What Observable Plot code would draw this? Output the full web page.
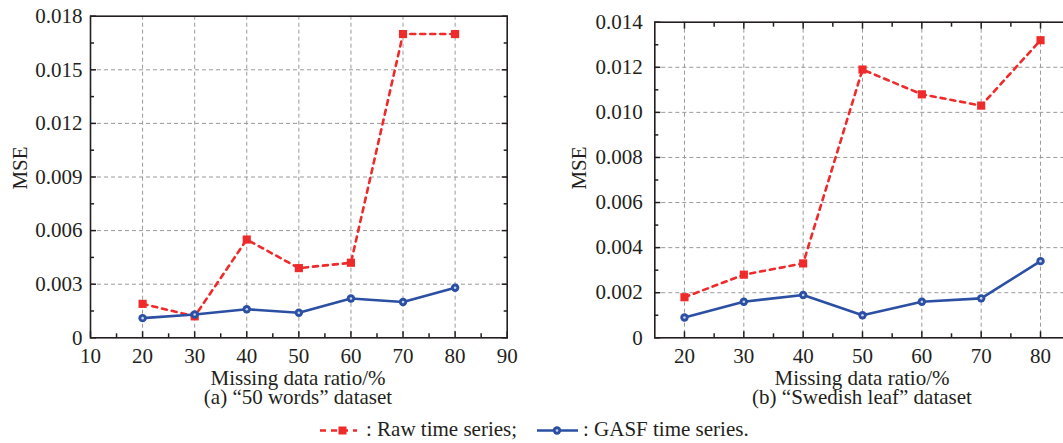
<!DOCTYPE html>
<html><head><meta charset="utf-8">
<script src="https://cdn.jsdelivr.net/npm/d3@7"></script>
<script src="https://cdn.jsdelivr.net/npm/@observablehq/plot@0.6"></script>
<style>
body{margin:0;background:#fff;}
#wrap{position:relative;width:1063px;height:443px;overflow:hidden;background:#fff;font-family:"Liberation Serif","Times New Roman",serif;color:#231f20;}
.p{position:absolute;top:0;width:520px;height:370px;}
.p svg{max-width:none !important;width:520px !important;height:370px !important;}
.p svg text{font-family:"Liberation Serif","Times New Roman",serif !important;font-size:21px !important;fill:#231f20;}
.t{position:absolute;font-size:21px;line-height:18px;white-space:nowrap;}
</style></head><body><div id="wrap"></div>
<script>
// ---- data ----
const ratios = [20, 30, 40, 50, 60, 70, 80];
const wordsRaw  = [0.0019, 0.0012, 0.0055, 0.0039, 0.0042, 0.0170, 0.0170];
const wordsGasf = [0.0011, 0.0013, 0.0016, 0.0014, 0.0022, 0.0020, 0.0028];
const leafRaw   = [0.0018, 0.0028, 0.0033, 0.0119, 0.0108, 0.0103, 0.0132];
const leafGasf  = [0.0009, 0.0016, 0.0019, 0.0010, 0.0016, 0.00175, 0.0034];

const wordsXTicks = [10, 20, 30, 40, 50, 60, 70, 80, 90];
const wordsXMinor = [15, 25, 35, 45, 55, 65, 75, 85];
const wordsYTicks = [0, 0.003, 0.006, 0.009, 0.012, 0.015, 0.018];
const wordsYMinor = [0.0015, 0.0045, 0.0075, 0.0105, 0.0135, 0.0165];
const leafXTicks = [20, 30, 40, 50, 60, 70, 80];
const leafXMinor = [25, 35, 45, 55, 65, 75, 85];
const leafYTicks = [0, 0.002, 0.004, 0.006, 0.008, 0.010, 0.012, 0.014];
const leafYMinor = [0.001, 0.003, 0.005, 0.007, 0.009, 0.011, 0.013];

const xLabel = "Missing data ratio/%";
const yLabel = "MSE";
const captions = ["(a) \u201c50 words\u201d dataset", "(b) \u201cSwedish leaf\u201d dataset"];
const seriesNames = [": Raw time series;", ": GASF time series."];

const RED = "#ee2a2a", BLUE = "#2b4fa3", GRID = "#9a9a9a", INK = "#231f20";
const yFmt = d => d === 0 ? "0" : d3.format(".3f")(d);

function panel(cfg) {
  const raw = cfg.x.map((x, i) => ({x, y: cfg.raw[i]}));
  const gasf = cfg.x.map((x, i) => ({x, y: cfg.gasf[i]}));
  const gridX = cfg.xTicks.filter(d => d > cfg.xDomain[0] && d < cfg.xDomain[1]);
  const gridY = cfg.yTicks.filter(d => d > cfg.yDomain[0] && d < cfg.yDomain[1]);
  const marks = [
    Plot.gridX(gridX, {stroke: GRID, strokeOpacity: 1, strokeWidth: 1, strokeDasharray: "4,3"}),
    Plot.gridY(gridY, {stroke: GRID, strokeOpacity: 1, strokeWidth: 1, strokeDasharray: "4,3"}),
    // labels
    Plot.axisX(cfg.xLabels, {anchor: "bottom", tickSize: 0, tickPadding: 10, label: null, tickFormat: d => String(d), fontSize: 21}),
    Plot.axisY(cfg.yTicks, {anchor: "left", tickSize: 0, tickPadding: cfg.yPad, label: null, tickFormat: yFmt, fontSize: 21}),
    // inward ticks
    Plot.axisX(cfg.xTicks, {anchor: "bottom", tickSize: -6, tickFormat: () => "", label: null, stroke: INK, strokeWidth: 1.5}),
    Plot.axisX(cfg.xMinor, {anchor: "bottom", tickSize: -4, tickFormat: () => "", label: null, stroke: INK, strokeWidth: 1.5}),
    Plot.axisY(cfg.yTicks, {anchor: "left", tickSize: -6, tickFormat: () => "", label: null, stroke: INK, strokeWidth: 1.5}),
    Plot.axisY(cfg.yMinor, {anchor: "left", tickSize: -4, tickFormat: () => "", label: null, stroke: INK, strokeWidth: 1.5}),
  ];
  if (cfg.rightTicks) {
    marks.push(Plot.axisY(cfg.yTicks, {anchor: "right", tickSize: -6, tickFormat: () => "", label: null, stroke: INK, strokeWidth: 1.5}));
    marks.push(Plot.axisY(cfg.yMinor, {anchor: "right", tickSize: -4, tickFormat: () => "", label: null, stroke: INK, strokeWidth: 1.5}));
  }
  if (cfg.topTicks) {
    marks.push(Plot.axisX(cfg.xTicks, {anchor: "top", tickSize: -6, tickFormat: () => "", label: null, stroke: INK, strokeWidth: 1.5}));
    marks.push(Plot.axisX(cfg.xMinor, {anchor: "top", tickSize: -4, tickFormat: () => "", label: null, stroke: INK, strokeWidth: 1.5}));
  }
  marks.push(
    Plot.frame({stroke: INK, strokeWidth: 1.6}),
    Plot.line(raw, {x: "x", y: "y", stroke: RED, strokeWidth: 2.6, strokeDasharray: "5,5"}),
    Plot.dot(raw, {x: "x", y: "y", symbol: "square", r: 4.6, fill: RED, stroke: "none"}),
    Plot.line(gasf, {x: "x", y: "y", stroke: BLUE, strokeWidth: 2.6}),
    Plot.dot(gasf, {x: "x", y: "y", r: 4.2, fill: BLUE, stroke: "none"}),
    Plot.dot(gasf, {x: "x", y: "y", r: 1.3, fill: "#c9d2ea", stroke: "none"})
  );
  return Plot.plot({
    width: cfg.width, height: 370,
    marginLeft: cfg.ml, marginRight: cfg.mr, marginTop: cfg.mt, marginBottom: 370 - 337.3,
    x: {domain: cfg.xDomain}, y: {domain: cfg.yDomain},
    style: {fontFamily: "Liberation Serif", fontSize: "21px", color: INK, background: "transparent", overflow: "visible", maxWidth: "none"},
    marks
  });
}

const wrap = document.getElementById("wrap");
function place(node, left) {
  const d = document.createElement("div");
  d.className = "p"; d.style.left = left + "px";
  d.appendChild(node); wrap.appendChild(d);
}
place(panel({x: ratios, raw: wordsRaw, gasf: wordsGasf, xDomain: [10, 90], yDomain: [0, 0.018],
  xTicks: wordsXTicks, xLabels: wordsXTicks, xMinor: wordsXMinor, yTicks: wordsYTicks, yMinor: wordsYMinor,
  width: 520, ml: 90, mr: 520 - 506.7, mt: 15.7, yPad: 8, rightTicks: true, topTicks: false}), 0);
place(panel({x: ratios, raw: leafRaw, gasf: leafGasf, xDomain: [15, 85], yDomain: [0, 0.014],
  xTicks: leafXTicks, xLabels: leafXTicks, xMinor: leafXMinor, yTicks: leafYTicks, yMinor: leafYMinor,
  width: 520, ml: 94.3, mr: 520 - 509.7, mt: 21.7, yPad: 12, rightTicks: false, topTicks: true}), 560);

function text(str, left, top, transform) {
  const d = document.createElement("div");
  d.className = "t"; d.textContent = str;
  d.style.left = left + "px"; d.style.top = top + "px";
  if (transform) d.style.transform = transform;
  wrap.appendChild(d);
  return d;
}
// y labels
text(yLabel, 19.5, 167.5, "translate(-50%,-50%) rotate(-90deg)");
text(yLabel, 579, 167.5, "translate(-50%,-50%) rotate(-90deg)");
// x labels and captions
text(xLabel, 298, 368.9, "translateX(-50%)");
text(xLabel, 862, 368.9, "translateX(-50%)");
text(captions[0], 298, 387.9, "translateX(-50%)");
text(captions[1], 862, 387.9, "translateX(-50%)");
// legend
const ns = "http://www.w3.org/2000/svg";
const lg = document.createElementNS(ns, "svg");
lg.setAttribute("width", 1063); lg.setAttribute("height", 443);
lg.style.position = "absolute"; lg.style.left = "0"; lg.style.top = "0";
lg.innerHTML =
  `<line x1="320" x2="357" y1="430.5" y2="430.5" stroke="${RED}" stroke-width="2.6" stroke-dasharray="6,5"/>` +
  `<rect x="338.5" y="426.5" width="8" height="8" fill="${RED}"/>` +
  `<line x1="537" x2="578" y1="430.5" y2="430.5" stroke="${BLUE}" stroke-width="2.6"/>` +
  `<circle cx="557" cy="430.5" r="4.2" fill="${BLUE}"/>` +
  `<circle cx="557" cy="430.5" r="1.3" fill="#c9d2ea"/>`;
wrap.appendChild(lg);
text(seriesNames[0], 366, 419.6);
text(seriesNames[1], 583, 419.6);
</script></body></html>
